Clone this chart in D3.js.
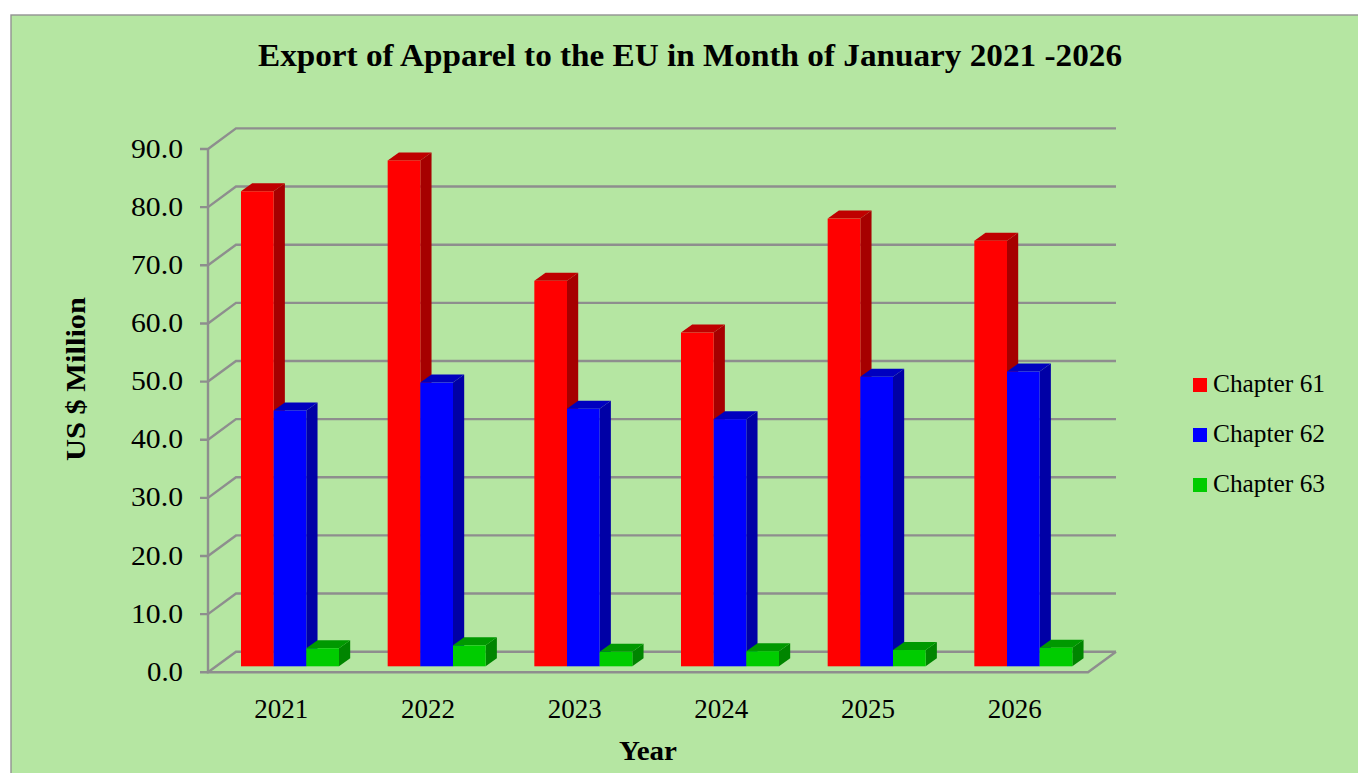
<!DOCTYPE html>
<html><head><meta charset="utf-8">
<script src="https://cdn.jsdelivr.net/npm/d3@7"></script>
<style>html,body{margin:0;padding:0;background:#fff;overflow:hidden}svg{display:block}text{font-family:"Liberation Serif","DejaVu Serif",serif;fill:#000}</style>
</head><body><script>
const years=["2021","2022","2023","2024","2025","2026"];
const seriesNames=["Chapter 61","Chapter 62","Chapter 63"];
const chapter61=[81.7,87.0,66.3,57.4,77.0,73.2];
const chapter62=[44.0,48.8,44.3,42.5,49.8,50.7];
const chapter63=[3.1,3.6,2.5,2.6,2.8,3.2];
const yTicks=[0,10,20,30,40,50,60,70,80,90];
const faceColors=["#ff0000","#0000ff","#00cc00"];
const topColors=["#bf0000","#0000bf","#009900"];
const sideColors=["#a60000","#0000a6","#008500"];
const allSeries=[chapter61,chapter62,chapter63];
const W=1358,H=773,dx=28,dy=20.6,bdx=11.2,bdy=8,grid="#8e8e8e";
const svg=d3.select("body").append("svg").attr("width",W).attr("height",H);
svg.append("rect").attr("x",11).attr("y",15).attr("width",W-11+5).attr("height",H).attr("fill","#b5e6a2").attr("stroke","#929292").attr("stroke-width",1.4);
const y=d3.scaleLinear().domain([0,90]).range([672.3,149]);
const x=d3.scaleBand().domain(years).range([208,1088]);
const ser=d3.scaleBand().domain(seriesNames).range([0,98]);
const L=208,R=1088,base=666.3;
const g=svg.append("g").attr("stroke",grid).attr("stroke-width",2.4).attr("fill","none");
yTicks.forEach(t=>{
  const v=y(t);
  g.append("path").attr("d",`M${L-8},${v}H${L}L${L+dx},${v-dy}H${R+dx}`);
});
g.append("path").attr("d",`M${L},${y(90)}V${y(0)}H${R}L${R+dx},${y(0)-dy}`);
const bars=svg.append("g");
const off=33;
years.forEach((yr,i)=>{
  allSeries.forEach((s,k)=>{
    const bx=x(yr)+off+ser(seriesNames[k]),w=ser.bandwidth();
    const top=base-(y(0)-y(s[i]));
    const b=bars.append("g").attr("class","bar");
    b.append("path").attr("fill",sideColors[k]).attr("d",`M${bx+w},${top}l${bdx},${-bdy}V${base-bdy}l${-bdx},${bdy}Z`);
    b.append("path").attr("fill",topColors[k]).attr("d",`M${bx},${top}l${bdx},${-bdy}h${w}l${-bdx},${bdy}Z`);
    b.append("rect").attr("x",bx).attr("y",top).attr("width",w).attr("height",base-top).attr("fill",faceColors[k]);
  });
});
const fit=(sel,len)=>sel.attr("textLength",len).attr("lengthAdjust","spacingAndGlyphs");
const tl=svg.append("g");
yTicks.forEach(t=>fit(tl.append("text").attr("x",183).attr("y",y(t)+8.5).attr("text-anchor","end").style("font-size","28px").text(d3.format(".1f")(t)),t===0?36:52));
years.forEach(yr=>fit(tl.append("text").attr("x",x(yr)+x.bandwidth()/2).attr("y",718).attr("text-anchor","middle").style("font-size","27px").text(yr),54));
fit(svg.append("text").attr("x",690).attr("y",66).attr("text-anchor","middle").attr("font-weight","bold").style("font-size","32px").text("Export of Apparel to the EU in Month of January 2021 -2026"),864);
fit(svg.append("text").attr("x",648).attr("y",760).attr("text-anchor","middle").attr("font-weight","bold").style("font-size","28px").text("Year"),58);
fit(svg.append("text").attr("transform","translate(85,379) rotate(-90)").attr("text-anchor","middle").attr("font-weight","bold").style("font-size","28px").text("US $ Million"),164);
const legY=d3.scalePoint().domain(seriesNames).range([385,485]);
seriesNames.forEach((n,k)=>{
  svg.append("rect").attr("x",1193).attr("y",legY(n)-7).attr("width",14).attr("height",14).attr("fill",faceColors[k]);
  fit(svg.append("text").attr("x",1213).attr("y",legY(n)+6.5).style("font-size","25px").text(n),112);
});
</script></body></html>
